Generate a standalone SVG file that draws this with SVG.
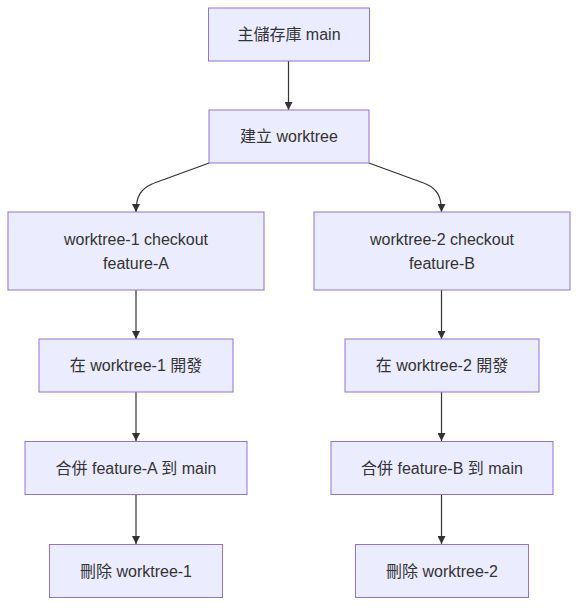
<svg xmlns="http://www.w3.org/2000/svg" width="586" height="614" viewBox="0 0 586 614">
<style>
.node rect{fill:#ECECFF;stroke:#9370DB;stroke-width:1}
.node text{font-family:"Liberation Sans","Noto Sans CJK TC",sans-serif;font-size:16px;fill:#333;text-anchor:middle;dominant-baseline:central}
.edges path{fill:none;stroke:#333;stroke-width:1.2;marker-end:url(#arrow)}
</style>
<defs>
<marker id="arrow" viewBox="0 0 10 10" refX="10" refY="5" markerUnits="userSpaceOnUse" markerWidth="8" markerHeight="8" orient="auto">
<path d="M0,0 L10,5 L0,10 z" fill="#333"/>
</marker>
</defs>
<rect width="586" height="614" fill="#fff"/>
<g class="edges">
<path d="M288.5,61 L288.5,110"/>
<path d="M209,163 C185,172 162,180 152,184 C141,189 136,196 136,212"/>
<path d="M369,163 C393,172 416,180 426,184 C437,189 441.5,196 441.5,212"/>
<path d="M136,290 L136,339"/>
<path d="M441.5,290 L441.5,339"/>
<path d="M136,392 L136,441"/>
<path d="M441.5,392 L441.5,441"/>
<path d="M136,495 L136,544"/>
<path d="M441.5,495 L441.5,544"/>
</g>
<g id="n1" class="node"><rect x="208.5" y="8" width="161" height="53"/><text x="289" y="34.5">主儲存庫 main</text></g>
<g id="n2" class="node"><rect x="209" y="110" width="160" height="53"/><text x="289" y="136.5">建立 worktree</text></g>
<g id="n3" class="node"><rect x="8" y="212" width="256" height="78"/><text x="136" y="239.5">worktree-1 checkout</text><text x="136" y="263.5">feature-A</text></g>
<g id="n4" class="node"><rect x="314" y="212" width="256" height="78"/><text x="442" y="239.5">worktree-2 checkout</text><text x="442" y="263.5">feature-B</text></g>
<g id="n5" class="node"><rect x="39" y="339" width="194" height="53"/><text x="136" y="365.5">在 worktree-1 開發</text></g>
<g id="n6" class="node"><rect x="345" y="339" width="194" height="53"/><text x="442" y="365.5">在 worktree-2 開發</text></g>
<g id="n7" class="node"><rect x="25" y="441.5" width="222" height="53"/><text x="136" y="468">合併 feature-A 到 main</text></g>
<g id="n8" class="node"><rect x="331" y="441.5" width="222" height="53"/><text x="442" y="468">合併 feature-B 到 main</text></g>
<g id="n9" class="node"><rect x="49.5" y="544.5" width="173" height="53"/><text x="136" y="571">刪除 worktree-1</text></g>
<g id="n10" class="node"><rect x="355.5" y="544.5" width="173" height="53"/><text x="442" y="571">刪除 worktree-2</text></g>
</svg>
